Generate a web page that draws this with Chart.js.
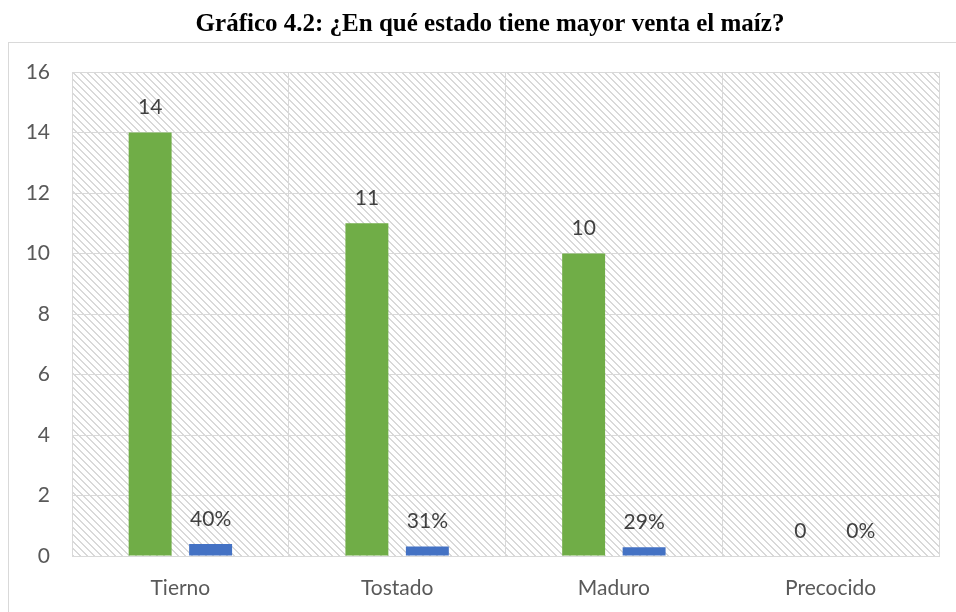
<!DOCTYPE html>
<html>
<head>
<meta charset="utf-8">
<script src="https://cdn.jsdelivr.net/npm/chart.js@4.4.1/dist/chart.umd.min.js"></script>
<style>
  html, body { margin: 0; padding: 0; background: #fff; }
  #wrap { width: 956px; height: 612px; position: relative; }
</style>
</head>
<body>
<div id="wrap"><canvas id="chart" width="956" height="612"></canvas></div>
<script>
const chartTitle = 'Gráfico 4.2: ¿En qué estado tiene mayor venta el maíz?';
const categories = ['Tierno', 'Tostado', 'Maduro', 'Precocido'];
const counts = [14, 11, 10, 0];
const shares = [0.40, 0.31, 0.29, 0];

const gridColor = '#d9d9d9';
const tickFont = { family: 'Lato, "DejaVu Sans", sans-serif', size: 21 };

// diagonal hatch for the plot area
function makeHatch() {
    const tile = document.createElement('canvas');
    tile.width = 7;
    tile.height = 7;
    const t = tile.getContext('2d');
    t.fillStyle = '#ffffff';
    t.fillRect(0, 0, 7, 7);
    t.fillStyle = '#d9d9d9';
    for (let i = 0; i < 7; i++) {
        t.fillRect(i, i, 1, 1);
        t.fillRect((i + 1) % 7, i, 1, 1);
    }
    return t.createPattern(tile, 'repeat');
}

const backdrop = {
    id: 'backdrop',
    beforeDraw(chart) {
        const { ctx, chartArea } = chart;
        ctx.save();
        // title sits above the framed chart box
        ctx.font = 'bold 25px "Liberation Serif", "Times New Roman", serif';
        ctx.fillStyle = '#000';
        ctx.textAlign = 'center';
        ctx.textBaseline = 'alphabetic';
        ctx.fillText(chartTitle, 490, 31);

        ctx.strokeStyle = gridColor;
        ctx.lineWidth = 1;
        ctx.strokeRect(8.5, 42.5, 1000, 600);
        ctx.fillStyle = makeHatch();
        ctx.fillRect(chartArea.left, chartArea.top, chartArea.right - chartArea.left, chartArea.bottom - chartArea.top);
        ctx.restore();
    }
};

const valueLabels = {
    id: 'valueLabels',
    afterDatasetsDraw(chart) {
        const { ctx } = chart;
        ctx.save();
        ctx.font = '21px Lato, "DejaVu Sans", sans-serif';
        ctx.fillStyle = '#404040';
        ctx.textAlign = 'center';
        ctx.textBaseline = 'middle';
        chart.data.datasets.forEach((ds, di) => {
            chart.getDatasetMeta(di).data.forEach((bar, i) => {
                const v = ds.data[i];
                const txt = di === 0 ? String(v) : Math.round(v * 100) + '%';
                ctx.fillText(txt, bar.x, bar.y - 25);
            });
        });
        ctx.restore();
    }
};

new Chart(document.getElementById('chart'), {
    type: 'bar',
    data: {
        labels: categories,
        datasets: [
            { label: 'Cantidad', data: counts, backgroundColor: '#70ad47' },
            { label: 'Porcentaje', data: shares, backgroundColor: '#4472c4' }
        ]
    },
    options: {
        responsive: false,
        animation: false,
        layout: { padding: { left: 0, right: 17, top: 72, bottom: 0 } },
        datasets: {
            bar: { categoryPercentage: 0.558, barPercentage: 0.71 }
        },
        plugins: {
            legend: { display: false },
            tooltip: { enabled: false },
            title: { display: false }
        },
        scales: {
            x: {
                grid: { color: gridColor, drawTicks: false, offset: true },
                border: { color: gridColor },
                ticks: { color: '#595959', font: tickFont, padding: 20 },
                afterFit(scale) { scale.height = 56; }
            },
            y: {
                min: 0,
                max: 16,
                grid: { color: gridColor, drawTicks: false },
                border: { color: gridColor },
                ticks: { stepSize: 2, color: '#595959', font: tickFont, padding: 22 },
                afterFit(scale) { scale.width = 72; }
            }
        }
    },
    plugins: [backdrop, valueLabels]
});
</script>
</body>
</html>
